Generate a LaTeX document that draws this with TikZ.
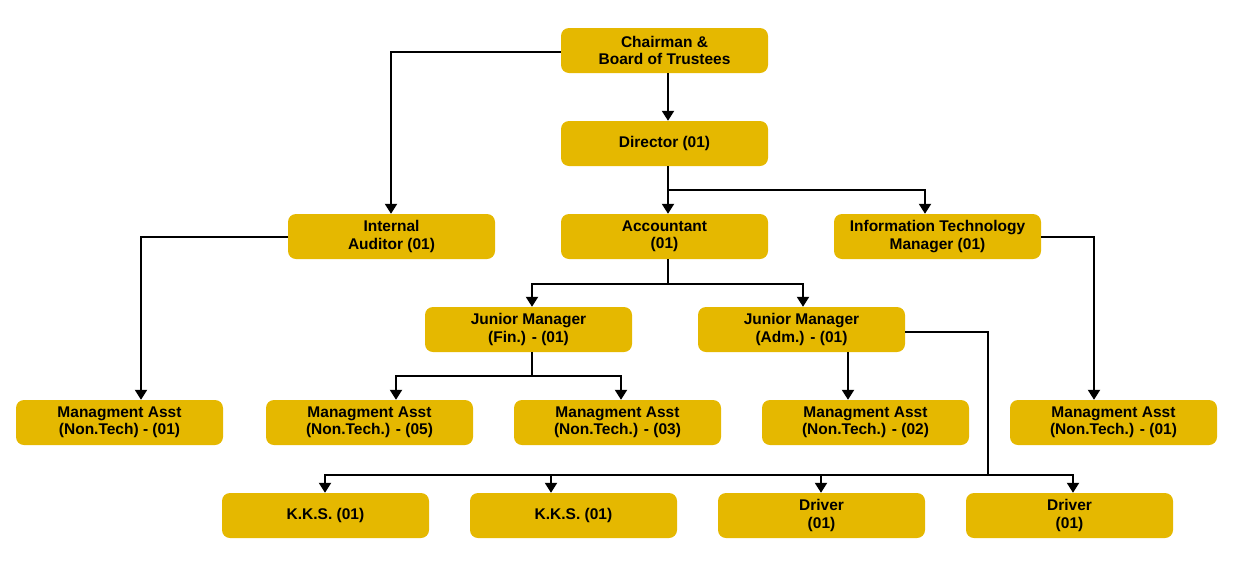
\documentclass[tikz,border=0pt]{standalone}
\usepackage{fontspec}
\setmainfont{Liberation Sans}
\usetikzlibrary{arrows.meta}
\definecolor{boxyellow}{HTML}{E5B800}
\tikzset{
  post/.style={fill=boxyellow, rounded corners=8pt, minimum width=207pt,
    minimum height=45pt, align=center, font=\bfseries\fontsize{15.5}{17.5}\selectfont},
  link/.style={line width=2pt, -{Triangle[width=12pt,length=10pt]}},
  plain/.style={line width=2pt}
}
\begin{document}
\begin{tikzpicture}[x=1pt,y=-1pt]
      \useasboundingbox (0,0) rectangle (1235,571);
      \draw
        (664.5,50.5) node[post] (chair){Chairman \&\\Board of Trustees}
        (664.5,143.5) node[post] (dir){Director (01)}
        (391.5,236.5) node[post] (audit){Internal\\Auditor (01)}
        (664.5,236.5) node[post] (acc){Accountant\\(01)}
        (937.5,236.5) node[post] (it){Information Technology\\Manager (01)}
        (528.5,329.5) node[post] (jmf){Junior Manager\\(Fin.) - (01)}
        (801.5,329.5) node[post] (jma){Junior Manager\\(Adm.) - (01)}
        (119.5,422.5) node[post] (ma1){Managment Asst\\(Non.Tech) - (01)}
        (369.5,422.5) node[post] (ma2){Managment Asst\\(Non.Tech.) - (05)}
        (617.5,422.5) node[post] (ma3){Managment Asst\\(Non.Tech.) - (03)}
        (865.5,422.5) node[post] (ma4){Managment Asst\\(Non.Tech.) - (02)}
        (1113.5,422.5) node[post] (ma5){Managment Asst\\(Non.Tech.) - (01)}
        (325.5,515.5) node[post] (kks1){K.K.S. (01)}
        (573.5,515.5) node[post] (kks2){K.K.S. (01)}
        (821.5,515.5) node[post] (drv1){Driver\\(01)}
        (1069.5,515.5) node[post] (drv2){Driver\\(01)};
      \coordinate (d1) at (668,190);
      \coordinate (a1) at (668,284);
      \coordinate (f1) at (532,376);
      \coordinate (b1) at (988,475);
      \begin{scope}[link]
        \draw ([xshift=3.5pt]chair.south) -- ([xshift=3.5pt]dir.north);
        \draw ([yshift=-1.5pt]chair.west) -| ([xshift=-0.5pt]audit.north);
        \draw ([xshift=3.5pt]dir.south) -- ([xshift=3.5pt]acc.north);
        \draw (d1) -| ([xshift=-12.5pt]it.north);
        \draw ([yshift=-0.5pt]audit.west) -| ([xshift=21.5pt]ma1.north);
        \draw ([yshift=-0.5pt]it.east) -| ([xshift=-19.5pt]ma5.north);
        \draw (a1) -| ([xshift=3.5pt]jmf.north);
        \draw (a1) -| ([xshift=1.5pt]jma.north);
        \draw (f1) -| ([xshift=26.5pt]ma2.north);
        \draw (f1) -| ([xshift=3.5pt]ma3.north);
        \draw ([xshift=46.5pt]jma.south) -- ([xshift=-17.5pt]ma4.north);
        \draw (b1) -| ([xshift=-0.5pt]kks1.north);
        \draw (b1) -| ([xshift=-22.5pt]kks2.north);
        \draw (b1) -| ([xshift=-0.5pt]drv1.north);
        \draw (b1) -| ([xshift=3.5pt]drv2.north);
      \end{scope}
      \begin{scope}[plain]
        \draw ([xshift=3.5pt]acc.south) -- (a1);
        \draw ([xshift=3.5pt]jmf.south) -- (f1);
        \draw ([yshift=-2.5pt]jma.east) -| (b1);
      \end{scope}
    \end{tikzpicture}
\end{document}
